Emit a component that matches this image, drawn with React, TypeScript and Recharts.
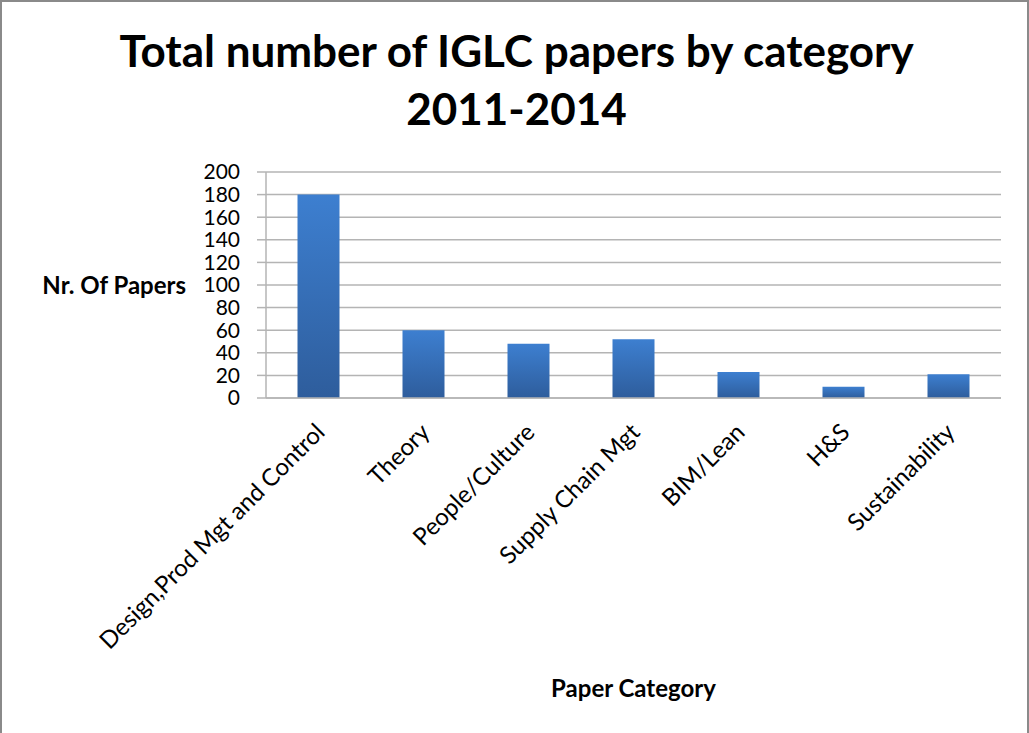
import { Bar, BarChart, CartesianGrid, Label, XAxis, YAxis } from "recharts";

const categories = [
  "Design,Prod Mgt and Control",
  "Theory",
  "People/Culture",
  "Supply Chain Mgt",
  "BIM/Lean",
  "H&S",
  "Sustainability",
];
const papers = [180, 60, 48, 52, 23, 10, 21];
const yTicks = [0, 20, 40, 60, 80, 100, 120, 140, 160, 180, 200];
const edgeTicks = [0, 1, 2, 3, 4, 5, 6, 7];

const rows = categories.map((name, i) => ({ name, papers: papers[i] }));

const FONT = "Lato, 'Open Sans', sans-serif";
const GRID = "#b4b4b4";

function CategoryTick({ x, y, payload }: any) {
  return (
    <text
      x={x + 1}
      y={y + 21}
      transform={`rotate(-45, ${x + 1}, ${y + 21})`}
      textAnchor="end"
      dominantBaseline="central"
      fontFamily={FONT}
      fontSize={24}
      fill="#000"
    >
      {payload.value}
    </text>
  );
}

export default function App() {
  return (
    <div
      style={{
        position: "absolute",
        left: 0,
        top: 0,
        width: 1029,
        height: 733,
        boxSizing: "border-box",
        border: "2px solid #8a8a8a",
        borderBottom: "none",
        background: "#fff",
        overflow: "hidden",
      }}
    >
      <div
        style={{
          position: "absolute",
          left: 0,
          top: 19,
          width: 1029,
          textAlign: "center",
          fontFamily: FONT,
          fontWeight: 700,
          fontSize: 44,
          lineHeight: "58px",
          color: "#000",
        }}
      >
        Total number of IGLC papers by category
        <br />
        2011-2014
      </div>
      <div style={{ position: "absolute", left: -2, top: -2 }}>
        <BarChart
          width={1029}
          height={733}
          data={rows}
          margin={{ top: 172, right: 28, bottom: 0, left: 186 }}
          barCategoryGap="30%"
        >
          <defs>
            <linearGradient id="barFill" x1="0" y1="0" x2="0" y2="1">
              <stop offset="0%" stopColor="#3d7fd0" />
              <stop offset="100%" stopColor="#2e5d9c" />
            </linearGradient>
          </defs>
          <CartesianGrid vertical={false} stroke={GRID} strokeWidth={1.5} />
          <XAxis
            xAxisId="edges"
            type="number"
            domain={[0, 7]}
            ticks={edgeTicks}
            allowDataOverflow
            height={0}
            tick={false}
            tickSize={9}
            tickLine={{ stroke: GRID, strokeWidth: 1.5 }}
            axisLine={false}
          />
          <XAxis
            dataKey="name"
            interval={0}
            height={335}
            tickLine={false}
            axisLine={{ stroke: GRID, strokeWidth: 1.5 }}
            tick={<CategoryTick />}
          >
            <Label
              value="Paper Category"
              position="insideBottom"
              offset={36}
              fontFamily={FONT}
              fontWeight={700}
              fontSize={24}
              fill="#000"
            />
          </XAxis>
          <YAxis
            width={80}
            domain={[0, 200]}
            ticks={yTicks}
            interval={0}
            tickSize={9}
            tickMargin={17}
            tickLine={{ stroke: GRID, strokeWidth: 1.5 }}
            axisLine={{ stroke: GRID, strokeWidth: 1.5 }}
            tick={{ fontFamily: FONT, fontSize: 21, fill: "#000" }}
          >
            <Label
              value="Nr. Of Papers"
              position="left"
              offset={0}
              fontFamily={FONT}
              fontWeight={700}
              fontSize={24}
              fill="#000"
            />
          </YAxis>
          <Bar dataKey="papers" fill="url(#barFill)" isAnimationActive={false} />
        </BarChart>
      </div>
    </div>
  );
}
